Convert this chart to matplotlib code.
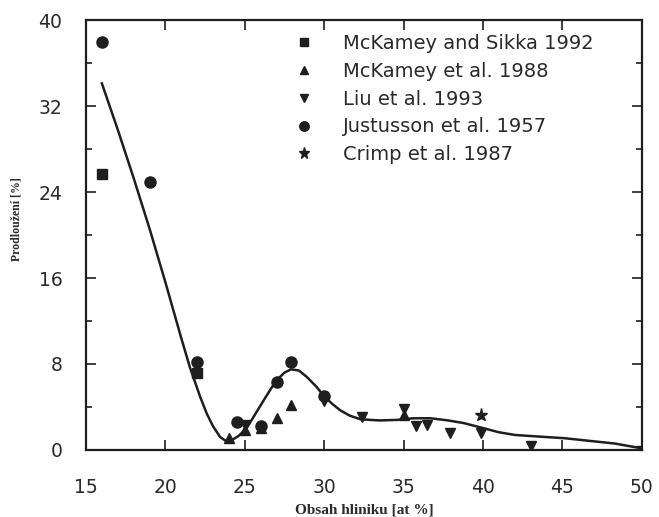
import matplotlib
matplotlib.use("Agg")
import matplotlib.pyplot as plt
from matplotlib.ticker import MultipleLocator

# data
sikka_x = [16.0, 22.0]
sikka_y = [25.7, 7.2]

mck88_x = [24.0, 25.0, 26.0, 27.0, 27.9, 35.0]
mck88_y = [1.1, 1.9, 2.0, 3.0, 4.2, 3.3]

liu_x = [25.0, 30.0, 32.4, 35.0, 35.8, 36.5, 37.9, 39.9, 43.0]
liu_y = [2.3, 4.6, 3.1, 3.8, 2.2, 2.3, 1.6, 1.55, 0.35]

just_x = [16.0, 19.0, 22.0, 24.5, 26.0, 27.0, 27.9, 30.0]
just_y = [38.0, 24.9, 8.2, 2.6, 2.2, 6.3, 8.2, 5.0]

crimp_x = [39.9, 50.0]
crimp_y = [3.3, 0.2]

# fitted curve
fit_x = [16.0, 17.0, 18.0, 19.0, 20.0, 21.0, 21.56, 21.8, 22.2, 22.6, 23.0,
         23.45, 23.8, 24.1, 24.6, 25.1, 25.6, 26.2, 26.6, 27.0, 27.5, 27.9,
         28.4, 28.9, 29.5, 30.0, 30.5, 31.0, 31.6, 32.3, 33.5, 34.6, 35.6,
         36.7, 37.8, 38.8, 40.1, 41.0, 42.0, 43.5, 45.1, 46.7, 48.3, 50.0]
fit_y = [34.1, 29.8, 25.3, 20.6, 15.6, 10.4, 7.6, 6.6, 4.9, 3.4, 2.2,
         1.2, 0.85, 0.85, 1.3, 2.0, 3.2, 4.65, 5.6, 6.5, 7.2, 7.5,
         7.4, 6.8, 5.9, 5.0, 4.3, 3.7, 3.2, 2.85, 2.75, 2.8, 2.95,
         2.95, 2.75, 2.5, 2.0, 1.65, 1.4, 1.25, 1.1, 0.85, 0.6, 0.15]

ink = "#1e1e1e"
txt = "#2a2a2a"

fig = plt.figure(figsize=(6.59, 5.17), dpi=100)
ax = fig.add_axes([0.1305, 0.1296, 0.8435, 0.8317])

ax.plot(fit_x, fit_y, color=ink, lw=1.8, zorder=2)

ms = 7.5
ax.plot(sikka_x, sikka_y, ls="none", marker="s", ms=ms, color=ink,
        label="McKamey and Sikka 1992", zorder=3)
ax.plot(mck88_x, mck88_y, ls="none", marker="^", ms=ms, color=ink,
        label="McKamey et al. 1988", zorder=3)
ax.plot(liu_x, liu_y, ls="none", marker="v", ms=ms, color=ink,
        label="Liu et al. 1993", zorder=3)
ax.plot(just_x, just_y, ls="none", marker="o", ms=ms + 0.5, color=ink,
        label="Justusson et al. 1957", zorder=3)
ax.plot(crimp_x, crimp_y, ls="none", marker="*", ms=ms + 2, color=ink,
        label="Crimp et al. 1987", zorder=3)

ax.set_xlim(15, 50)
ax.set_ylim(0, 40)
ax.xaxis.set_major_locator(MultipleLocator(5))
ax.yaxis.set_major_locator(MultipleLocator(8))
ax.yaxis.set_minor_locator(MultipleLocator(4))
ax.tick_params(which="both", direction="in", top=True, right=True,
               color=ink, width=1.2)
ax.tick_params(which="major", length=7)
ax.tick_params(which="minor", length=4)
ax.tick_params(axis="x", which="major", pad=20, labelsize=13.5,
               labelcolor=txt)
ax.tick_params(axis="y", which="major", pad=17, labelsize=13.5,
               labelcolor=txt)
for s in ax.spines.values():
    s.set_linewidth(1.6)
    s.set_color(ink)

ax.set_xlabel("Obsah hliniku [at %]", family="Liberation Serif",
              fontweight="bold", fontsize=11, color=txt, labelpad=5)
ax.set_ylabel("Prodloužení [%]", family="Liberation Serif",
              fontweight="bold", fontsize=8.5, color=txt)
ax.yaxis.set_label_coords(-0.115, 0.537)

leg = ax.legend(loc="upper left", bbox_to_anchor=(0.361, 0.985),
                frameon=False, fontsize=14, numpoints=1, handlelength=1.0,
                handletextpad=1.5, labelspacing=0.45, borderaxespad=0,
                markerscale=0.85)
for t in leg.get_texts():
    t.set_color(txt)

fig.savefig("out.png", dpi=100, facecolor="white")
